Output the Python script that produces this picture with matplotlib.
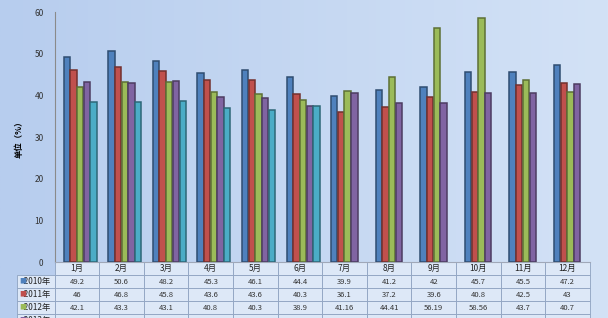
import numpy as np
import matplotlib
matplotlib.use("Agg")
import matplotlib.pyplot as plt
import matplotlib.colors as mcolors

plt.rcParams['font.family'] = ['Noto Sans CJK SC', 'DejaVu Sans']

months = ["1月", "2月", "3月", "4月", "5月", "6月", "7月", "8月", "9月", "10月", "11月", "12月"]
series = ["2010年", "2011年", "2012年", "2013年", "2014年"]
v2010 = [49.2, 50.6, 48.2, 45.3, 46.1, 44.4, 39.9, 41.2, 42, 45.7, 45.5, 47.2]
v2011 = [46, 46.8, 45.8, 43.6, 43.6, 40.3, 36.1, 37.2, 39.6, 40.8, 42.5, 43]
v2012 = [42.1, 43.3, 43.1, 40.8, 40.3, 38.9, 41.16, 44.41, 56.19, 58.56, 43.7, 40.7]
v2013 = [43.3, 42.9, 43.4, 39.7, 39.4, 37.5, 40.5, 38.1, 38.2, 40.6, 40.6, 42.8]
v2014 = [38.4, 38.4, 38.7, 37.0, 36.4, 37.5, None, None, None, None, None, None]
colors = ["#4f81bd", "#c0504d", "#9bbb59", "#8064a2", "#4bacc6"]

data = [v2010, v2011, v2012, v2013, v2014]

fig = plt.figure(figsize=(6.08, 3.18), dpi=100)

# gradient background
bg = fig.add_axes([0, 0, 1, 1], zorder=-1)
grad = np.linspace(0, 1, 256).reshape(1, -1)
cmap = mcolors.LinearSegmentedColormap.from_list("bg", ["#b7cdee", "#d3e2f6"])
bg.imshow(grad, aspect="auto", cmap=cmap, extent=[0, 1, 0, 1])
bg.axis("off")

ax = fig.add_axes([0.09, 0.176, 0.88, 0.786])
ax.patch.set_alpha(0)

x = np.arange(len(months))
w = 0.15
for i, (vals, c) in enumerate(zip(data, colors)):
    vv = np.array([np.nan if v is None else v for v in vals], dtype=float)
    dark = tuple(np.array(mcolors.to_rgb(c)) * 0.6)
    ax.bar(x + (i - 2) * w + 0.07, vv, w * 0.95, color=c, edgecolor=dark, linewidth=1.1, zorder=3)

ax.set_xlim(-0.5, 11.5)
ax.set_ylim(0, 60)
ax.set_yticks(range(0, 61, 10))
ax.tick_params(axis="y", length=0, labelsize=6, colors="#333333", pad=8)
ax.set_xticks([])
for s in ["top", "right"]:
    ax.spines[s].set_visible(False)
ax.spines["left"].set_color("#8a8a8a")
ax.spines["bottom"].set_color("#a0a8b8")
ax.set_ylabel("单位（%）", fontsize=6, fontweight="bold", labelpad=8)

# data table below axes
rows = []
for vals in data:
    rows.append(["" if v is None else ("%g" % v) for v in vals])
row_h = 0.052
lab_w = 0.07
nrows = len(series) + 1
tab = ax.table(cellText=rows, rowLabels=["   " + s for s in series], colLabels=months,
               colWidths=[1 / 12] * 12,
               cellLoc="center", rowLoc="left",
               bbox=[0, -nrows * row_h, 1, nrows * row_h])
tab._autoColumns = []
tab.auto_set_font_size(False)
for (r, cidx), cell in tab.get_celld().items():
    cell.set_edgecolor("#8ea2c0")
    cell.set_linewidth(0.6)
    cell.set_facecolor("#dde8f7")
    cell.get_text().set_fontsize(5.5)
    cell.get_text().set_color("#333333")
    if cidx == -1:
        cell.set_width(lab_w)
        cell.PAD = 0.02
    if cidx == -1 or r == 0:
        cell.get_text().set_fontsize(6)
        cell.get_text().set_color("#222222")

fig.canvas.draw()
# colored squares in front of the row labels
for i, c in enumerate(colors):
    cell = tab[(i + 1, -1)]
    ax.text(cell.get_x() + 0.004, cell.get_y() + cell.get_height() / 2, "■", color=c,
            fontsize=5, transform=ax.transAxes, va="center", ha="left", clip_on=False)

fig.savefig("out.png", dpi=100)
